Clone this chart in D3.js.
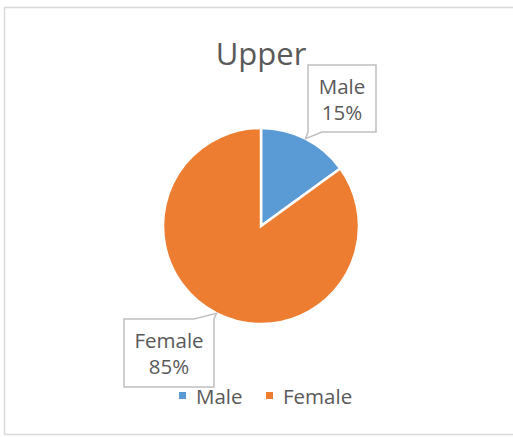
<!DOCTYPE html>
<html>
<head>
<meta charset="utf-8">
<script src="https://cdn.jsdelivr.net/npm/d3@7/dist/d3.min.js"></script>
<style>
  body { margin: 0; background: #fff; }
  svg text { font-family: "Open Sans", "Liberation Sans", sans-serif; fill: #595959; }
</style>
</head>
<body>
<div id="chart"></div>
<script>
const title = 'Upper';
const categories = ['Male', 'Female'];
const shares = [15, 85];
const colors = ['#5B9BD5', '#ED7D31'];

const width = 513, height = 437;
const cx = 261, cy = 226, radius = 98;

const svg = d3.select('#chart').append('svg')
    .attr('width', width)
    .attr('height', height);

// chart area border (right side runs off the picture)
svg.append('rect')
    .attr('x', 4.5).attr('y', 7.5)
    .attr('width', 520).attr('height', 427)
    .attr('fill', '#fff')
    .attr('stroke', '#d9d9d9')
    .attr('stroke-width', 1.5);

svg.append('text')
    .attr('x', 261).attr('y', 65)
    .attr('text-anchor', 'middle')
    .style('font-size', '31px')
    .text(title);

const data = categories.map((c, i) => ({ name: c, value: shares[i], color: colors[i] }));
const pie = d3.pie().sort(null).value(d => d.value);
const arcs = pie(data);
const arc = d3.arc().innerRadius(0).outerRadius(radius);
const edge = d3.arc().innerRadius(radius).outerRadius(radius);

const g = svg.append('g').attr('transform', 'translate(' + cx + ',' + cy + ')');
g.selectAll('path.slice')
    .data(arcs)
    .enter().append('path')
    .attr('class', 'slice')
    .attr('d', arc)
    .attr('fill', d => d.data.color)
    .attr('stroke', '#fff')
    .attr('stroke-width', 2.5);

// callout boxes: [left, top, right, bottom] relative to pie centre, pointer side
const boxes = [
    { box: [47, -161, 115, -94], side: 'bottom' },
    { box: [-137, 93, -47, 161], side: 'top' }
];

arcs.forEach((a, i) => {
    const tip = edge.centroid(a);
    const [l, t, r, b] = boxes[i].box;
    let p;
    if (boxes[i].side === 'bottom') {
        p = [[l, t], [r, t], [r, b], [l + 14, b], tip, [l, b]];
    } else {
        p = [[l, t], [r - 20, t], tip, [r, t], [r, b], [l, b]];
    }
    g.append('path')
        .attr('d', d3.line()(p) + 'Z')
        .attr('fill', '#fff')
        .attr('stroke', '#bfbfbf')
        .attr('stroke-width', 1.5);
    const mx = (l + r) / 2;
    g.append('text')
        .attr('x', mx).attr('y', t + 29)
        .attr('text-anchor', 'middle')
        .style('font-size', '20.5px')
        .text(a.data.name);
    g.append('text')
        .attr('x', mx).attr('y', t + 55)
        .attr('text-anchor', 'middle')
        .style('font-size', '20.5px')
        .text(a.data.value + '%');
});

// legend
const legendX = [179, 266];
const legend = svg.append('g');
data.forEach((d, i) => {
    legend.append('rect')
        .attr('x', legendX[i]).attr('y', 392)
        .attr('width', 7).attr('height', 7)
        .attr('fill', d.color);
    legend.append('text')
        .attr('x', legendX[i] + 17).attr('y', 404)
        .style('font-size', '20.5px')
        .text(d.name);
});
</script>
</body>
</html>
